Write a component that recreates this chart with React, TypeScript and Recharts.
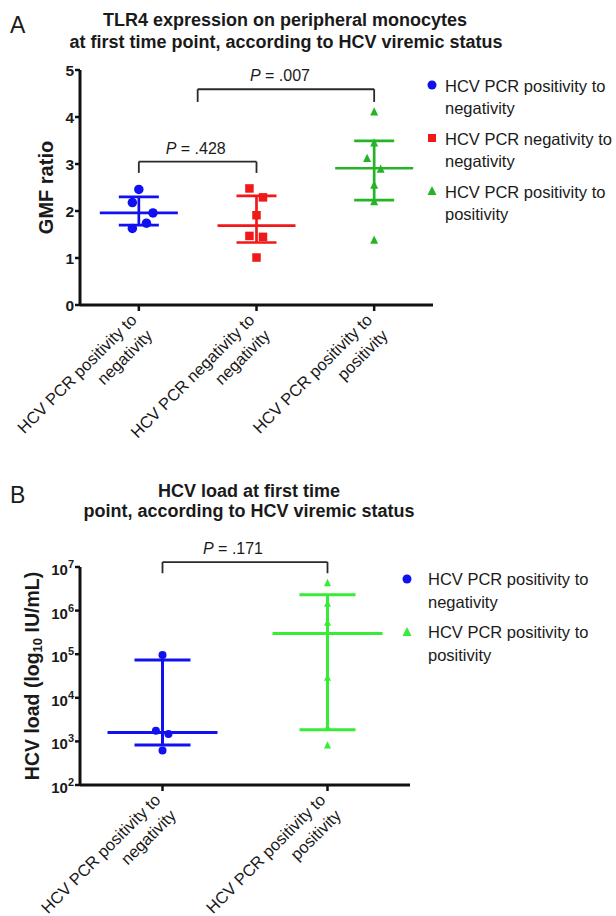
import React from "react";
import {
  ScatterChart,
  Scatter,
  XAxis,
  YAxis,
  ErrorBar,
  ReferenceLine,
  Legend,
} from "recharts";

const FONT = '"Liberation Sans", Arial, Helvetica, sans-serif';
const INK = "#1a1a1a";

const BLUE = "#1010f0";
const RED = "#f01818";
const GREEN_A = "#26b426";
const GREEN_B = "#36ec36";

// Panel A: TLR4 GMF ratio on monocytes, per viremic group
const tlrGroupLines = [
  ["HCV PCR positivity to", "negativity"],
  ["HCV PCR negativity to", "negativity"],
  ["HCV PCR positivity to", "positivity"],
];
const tlrPosNeg = [2.46, 2.18, 1.96, 1.74, 1.63];
const tlrPosNegJitter = [0, -0.055, 0.12, 0.065, -0.055];
const tlrNegNeg = [2.48, 2.29, 1.91, 1.47, 1.45, 1.01];
const tlrNegNegJitter = [-0.06, 0.055, 0, -0.06, 0.055, 0];
const tlrPosPos = [4.11, 3.45, 3.12, 2.89, 2.55, 2.2, 1.38];
const tlrPosPosJitter = [0, 0, -0.06, 0.055, 0, 0, 0];
const tlrMedian = [1.96, 1.69, 2.91];
const tlrQ1 = [1.7, 1.33, 2.23];
const tlrQ3 = [2.3, 2.32, 3.49];
const tlrTicks = [0, 1, 2, 3, 4, 5];
const tlrPValues = [".428", ".007"];

// Panel B: HCV load (IU/mL), two groups
const loadGroupLines = [
  ["HCV PCR positivity to", "negativity"],
  ["HCV PCR positivity to", "positivity"],
];
const loadPosNeg = [96000, 1750, 1480, 620];
const loadPosNegJitter = [0, -0.04, 0.036, 0];
const loadPosPos = [4300000, 1450000, 530000, 29000, 2100, 810];
const loadPosPosJitter = [0, 0, 0, 0, 0, 0];
const loadMedian = [1600, 300000];
const loadQ1 = [830, 1850];
const loadQ3 = [74000, 2300000];
const loadTicks = [1e2, 1e3, 1e4, 1e5, 1e6, 1e7];
const loadPValues = [".171"];

const toPoints = (vals: number[], jitter: number[], group: number) =>
  vals.map((v, i) => ({ x: group + jitter[i], y: v }));

const toSummary = (group: number, med: number, lo: number, hi: number) => [
  { x: group, y: med, err: [med - lo, hi - med] },
];

type MarkerKind = "circle" | "square" | "triangle";

function Marker({
  kind,
  cx,
  cy,
  fill,
  size,
}: {
  kind: MarkerKind;
  cx: number;
  cy: number;
  fill: string;
  size: number;
}) {
  if (kind === "circle") return <circle cx={cx} cy={cy} r={size / 2} fill={fill} />;
  if (kind === "square")
    return <rect x={cx - size / 2} y={cy - size / 2} width={size} height={size} fill={fill} />;
  const h = size * 0.9;
  return (
    <polygon
      points={`${cx},${cy - h / 2 - 1} ${cx - size / 2},${cy + h / 2} ${cx + size / 2},${cy + h / 2}`}
      fill={fill}
    />
  );
}

const pointShape = (kind: MarkerKind, fill: string, size: number) => (p: any) =>
  p.cx == null ? <g /> : <Marker kind={kind} cx={p.cx} cy={p.cy} fill={fill} size={size} />;

const medianShape = (stroke: string, half: number, width: number) => (p: any) =>
  p.cx == null ? (
    <g />
  ) : (
    <line x1={p.cx - half} x2={p.cx + half} y1={p.cy} y2={p.cy} stroke={stroke} strokeWidth={width} />
  );

function CategoryTick(props: any) {
  const { x, y, payload, lines } = props;
  const label: string[] = lines[Math.round(payload.value) - 1] || [];
  return (
    <g transform={`translate(${x - 1},${y + 10})`}>
      <text transform="rotate(-45)" textAnchor="end" fontSize={16.5} fill={INK} fontFamily={FONT}>
        {label.map((l, i) => (
          <tspan key={i} x={0} dy={i === 0 ? 0 : 22}>
            {l}
          </tspan>
        ))}
      </text>
    </g>
  );
}

function PowerTick(props: any) {
  const { x, y, payload } = props;
  const exp = Math.round(Math.log10(payload.value));
  return (
    <text x={x} y={y + 8} textAnchor="end" fontSize={15} fontWeight={700} fill={INK} fontFamily={FONT}>
      10
      <tspan dy={-7} fontSize={11}>
        {exp}
      </tspan>
    </text>
  );
}

function AxisTitle(props: any) {
  const { viewBox, cx, fallbackMid, size = 18, children } = props;
  const mid = viewBox && viewBox.height ? viewBox.y + viewBox.height / 2 : fallbackMid;
  return (
    <text
      x={cx}
      y={mid}
      transform={`rotate(-90, ${cx}, ${mid})`}
      textAnchor="middle"
      dominantBaseline="central"
      fontSize={size}
      fontWeight={700}
      fill={INK}
      fontFamily={FONT}
    >
      {children}
    </text>
  );
}

function PLabel(props: any) {
  const { viewBox, p, shift = 0 } = props;
  if (!viewBox) return null;
  const x = viewBox.x + (viewBox.width || 0) / 2 + shift;
  return (
    <text x={x} y={viewBox.y - 8} textAnchor="middle" fontSize={16} fill={INK} fontFamily={FONT}>
      <tspan fontStyle="italic">P</tspan> = {p}
    </text>
  );
}

// Significance bracket: horizontal bar with two short drops
function bracket(key: string, from: number, to: number, top: number, foot: number, p: string, shift: number) {
  const line = { stroke: "#2a2a2a", strokeWidth: 1.8, ifOverflow: "visible" as const };
  return [
    <ReferenceLine
      key={key + "-bar"}
      segment={[{ x: from, y: top }, { x: to, y: top }]}
      {...line}
      label={<PLabel p={p} shift={shift} />}
    />,
    <ReferenceLine key={key + "-l"} segment={[{ x: from, y: top }, { x: from, y: foot }]} {...line} />,
    <ReferenceLine key={key + "-r"} segment={[{ x: to, y: top }, { x: to, y: foot }]} {...line} />,
  ];
}

function GroupLegend({
  lines,
  colors,
  kinds,
  markerLeft,
  textLeft,
  lineHeight,
  rowGap,
}: {
  lines: string[][];
  colors: string[];
  kinds: MarkerKind[];
  markerLeft: number;
  textLeft: number;
  lineHeight: number;
  rowGap: number;
}) {
  return (
    <div style={{ fontFamily: FONT, fontSize: 16.5, color: INK }}>
      {lines.map((l, i) => (
        <div key={i} style={{ position: "relative", paddingLeft: textLeft, marginBottom: rowGap, lineHeight: `${lineHeight}px` }}>
          <svg width={12} height={12} style={{ position: "absolute", left: markerLeft - 6, top: lineHeight / 2 - 7 }}>
            <Marker kind={kinds[i]} cx={6} cy={6} fill={colors[i]} size={kinds[i] === "square" ? 8 : 9} />
          </svg>
          <div>{l[0]}</div>
          <div>{l[1]}</div>
        </div>
      ))}
    </div>
  );
}

const axisLine = { stroke: "#111", strokeWidth: 3 };
const tickLine = { stroke: "#111", strokeWidth: 2.5 };

function TlrPanel() {
  const colors = [BLUE, RED, GREEN_A];
  const kinds: MarkerKind[] = ["circle", "square", "triangle"];
  const series = [
    toPoints(tlrPosNeg, tlrPosNegJitter, 1),
    toPoints(tlrNegNeg, tlrNegNegJitter, 2),
    toPoints(tlrPosPos, tlrPosPosJitter, 3),
  ];
  const sizes = [9.5, 8.5, 8];
  return (
    <ScatterChart width={616} height={460} margin={{ top: 70, right: 183, bottom: 5, left: 0 }}>
      <XAxis
        type="number"
        dataKey="x"
        domain={[0.5, 3.5]}
        ticks={[1, 2, 3]}
        interval={0}
        height={150}
        tickSize={6}
        tickMargin={0}
        axisLine={axisLine}
        tickLine={tickLine}
        tick={<CategoryTick lines={tlrGroupLines} />}
      />
      <YAxis
        type="number"
        dataKey="y"
        domain={[0, 5]}
        ticks={tlrTicks}
        width={80}
        tickSize={5}
        tickMargin={1}
        axisLine={axisLine}
        tickLine={tickLine}
        tick={{ fontSize: 15.5, fontWeight: 700, fill: INK, fontFamily: FONT }}
        label={
          <AxisTitle cx={46} fallbackMid={188} size={20}>
            GMF ratio
          </AxisTitle>
        }
      />
      {bracket("p1", 1, 2, 3.05, 2.81, tlrPValues[0], -2)}
      {bracket("p2", 1.5, 3, 4.59, 4.32, tlrPValues[1], -6)}
      {series.map((d, i) => (
        <Scatter
          key={"pts" + i}
          data={d}
          fill={colors[i]}
          shape={pointShape(kinds[i], colors[i], sizes[i])}
          isAnimationActive={false}
          legendType="none"
        />
      ))}
      {tlrMedian.map((m, i) => (
        <Scatter
          key={"med" + i}
          data={toSummary(i + 1, m, tlrQ1[i], tlrQ3[i])}
          fill={colors[i]}
          shape={medianShape(colors[i], 39, 2.7)}
          isAnimationActive={false}
          legendType="none"
        >
          <ErrorBar dataKey="err" direction="y" width={20} stroke={colors[i]} strokeWidth={2.7} />
        </Scatter>
      ))}
      <Legend
        layout="horizontal"
        verticalAlign="middle"
        align="center"
        wrapperStyle={{ left: 426, top: 75, width: 190 }}
        content={() => (
          <GroupLegend
            lines={tlrGroupLines}
            colors={colors}
            kinds={kinds}
            markerLeft={6}
            textLeft={19}
            lineHeight={22}
            rowGap={9}
          />
        )}
      />
    </ScatterChart>
  );
}

function LoadPanel() {
  const colors = [BLUE, GREEN_B];
  const kinds: MarkerKind[] = ["circle", "triangle"];
  const series = [toPoints(loadPosNeg, loadPosNegJitter, 1), toPoints(loadPosPos, loadPosPosJitter, 2)];
  const sizes = [8, 7];
  return (
    <ScatterChart width={616} height={456} margin={{ top: 107, right: 206, bottom: 1, left: 0 }}>
      <XAxis
        type="number"
        dataKey="x"
        domain={[0.5, 2.5]}
        ticks={[1, 2]}
        interval={0}
        height={130}
        tickSize={6}
        tickMargin={0}
        axisLine={axisLine}
        tickLine={tickLine}
        tick={<CategoryTick lines={loadGroupLines} />}
      />
      <YAxis
        type="number"
        dataKey="y"
        scale="log"
        domain={[1e2, 1e7]}
        ticks={loadTicks}
        allowDataOverflow
        width={80}
        tickSize={5}
        tickMargin={1}
        axisLine={axisLine}
        tickLine={tickLine}
        tick={<PowerTick />}
        label={
          <AxisTitle cx={32} fallbackMid={216} size={19.5}>
            HCV load (log
            <tspan dy={5} fontSize={13}>
              10
            </tspan>
            <tspan dy={-5}> IU/mL)</tspan>
          </AxisTitle>
        }
      />
      {bracket("p3", 1, 2, 1.3e7, 7.2e6, loadPValues[0], -12)}
      {series.map((d, i) => (
        <Scatter
          key={"pts" + i}
          data={d}
          fill={colors[i]}
          shape={pointShape(kinds[i], colors[i], sizes[i])}
          isAnimationActive={false}
          legendType="none"
        />
      ))}
      {loadMedian.map((m, i) => (
        <Scatter
          key={"med" + i}
          data={toSummary(i + 1, m, loadQ1[i], loadQ3[i])}
          fill={colors[i]}
          shape={medianShape(colors[i], 55, 3)}
          isAnimationActive={false}
          legendType="none"
        >
          <ErrorBar dataKey="err" direction="y" width={28} stroke={colors[i]} strokeWidth={3} />
        </Scatter>
      ))}
      <Legend
        layout="horizontal"
        verticalAlign="middle"
        align="center"
        wrapperStyle={{ left: 400, top: 108, width: 216 }}
        content={() => (
          <GroupLegend
            lines={loadGroupLines}
            colors={colors}
            kinds={kinds}
            markerLeft={7}
            textLeft={28}
            lineHeight={23}
            rowGap={7}
          />
        )}
      />
    </ScatterChart>
  );
}

export default function App() {
  return (
    <div style={{ position: "absolute", left: 0, top: 0, width: 616, height: 916, background: "#fff", fontFamily: FONT }}>
      <div style={{ position: "absolute", left: 0, top: 0 }}>
        <TlrPanel />
      </div>
      <div style={{ position: "absolute", left: 0, top: 460 }}>
        <LoadPanel />
      </div>
      <svg width={616} height={916} style={{ position: "absolute", left: 0, top: 0, pointerEvents: "none" }}>
        <g fontFamily={FONT} fill={INK}>
          <text x={10} y={33} fontSize={23}>A</text>
          <text x={285} y={26} fontSize={18} fontWeight={700} textAnchor="middle">
            TLR4 expression on peripheral monocytes
          </text>
          <text x={286} y={48} fontSize={18} fontWeight={700} textAnchor="middle">
            at first time point, according to HCV viremic status
          </text>
          <text x={10} y={503} fontSize={23}>B</text>
          <text x={249} y={497} fontSize={18} fontWeight={700} textAnchor="middle">
            HCV load at first time
          </text>
          <text x={249} y={517} fontSize={18} fontWeight={700} textAnchor="middle">
            point, according to HCV viremic status
          </text>
        </g>
      </svg>
    </div>
  );
}
